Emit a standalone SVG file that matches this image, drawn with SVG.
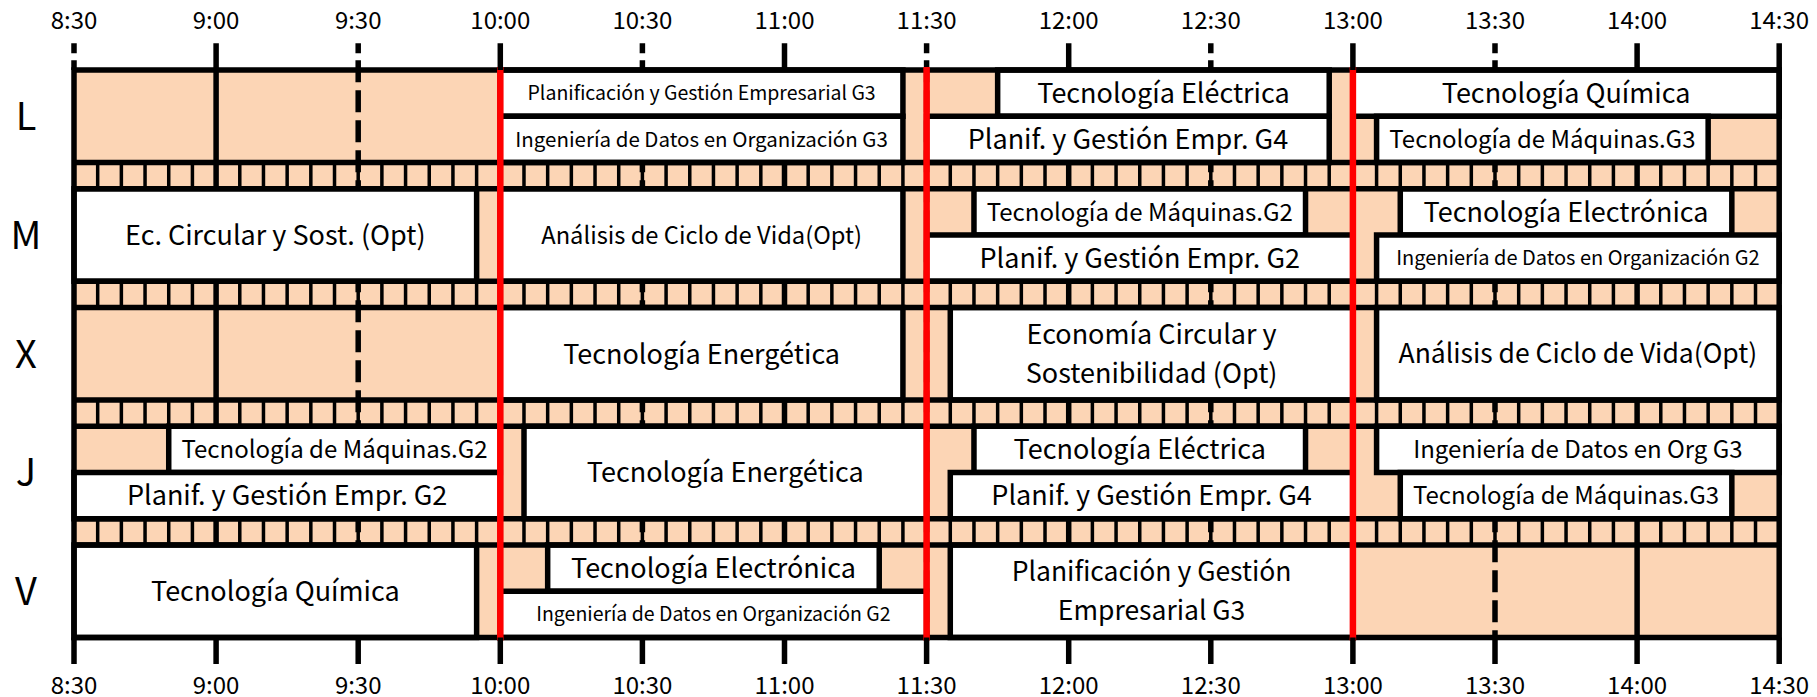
<svg xmlns="http://www.w3.org/2000/svg" width="1817" height="697" viewBox="0 0 1817 697">
<style>
text{font-family:"Noto Sans CJK JP","Noto Sans",sans-serif;fill:#000;text-anchor:middle}
.big{font-size:27px}
.mq{font-size:24px}
.sm{font-size:20px}
.tl{font-size:24px}
.day{font-size:38px}
.bg{fill:#fcd5b5}
.box{fill:#fff;stroke:#000;stroke-width:5.5}
.cells{stroke:#000;stroke-width:26.25;stroke-dasharray:3.5 20.18333}
.hr{stroke:#000;stroke-width:5.5}
.hh{stroke:#000;stroke-width:5.5;stroke-dasharray:22 8}
.rl{stroke:#000;stroke-width:5.5}
.red{stroke:#f00;stroke-width:6.5}
.tk{stroke:#000;stroke-width:5.5}
</style>
<rect width="1817" height="697" fill="#fff"/>
<g id="background">
<rect class="bg" x="74" y="70" width="1705.2" height="567.5"/>
</g>
<g id="strips">
<line class="cells" x1="72.25" y1="175.625" x2="1781" y2="175.625"/>
<line class="cells" x1="72.25" y1="294.375" x2="1781" y2="294.375"/>
<line class="cells" x1="72.25" y1="413.125" x2="1781" y2="413.125"/>
<line class="cells" x1="72.25" y1="531.875" x2="1781" y2="531.875"/>
</g>
<g id="timelines">
<path class="hr" d="M216.1 70V637.5M500.3 70V637.5M784.5 70V637.5M1068.7 70V637.5M1352.9 70V637.5M1637.1 70V637.5"/>
<path class="hh" d="M358.2 60.3V637.5M642.4 60.3V637.5M926.6 60.3V637.5M1210.8 60.3V637.5M1495 60.3V637.5"/>
</g>
<g id="node-L1"><rect class="box" x="500.3" y="70" width="402.62" height="46.25"/><text class="sm" style="font-size:19.5px" x="701.61" y="100.1">Planificación y Gestión Empresarial G3</text></g>
<g id="node-L2"><rect class="box" x="500.3" y="116.25" width="402.62" height="46.25"/><text class="sm" style="font-size:20.5px" x="701.61" y="146.8">Ingeniería de Datos en Organización G3</text></g>
<g id="node-L3"><rect class="box" x="997.65" y="70" width="331.57" height="46.25"/><text class="big" x="1163.44" y="102.8">Tecnología Eléctrica</text></g>
<g id="node-L4"><rect class="box" x="926.6" y="116.25" width="402.62" height="46.25"/><text class="big" x="1127.91" y="149.2">Planif. y Gestión Empr. G4</text></g>
<g id="node-L5"><rect class="box" x="1352.9" y="70" width="426.3" height="46.25"/><text class="big" x="1566.05" y="102.8">Tecnología Química</text></g>
<g id="node-L6"><rect class="box" x="1376.58" y="116.25" width="331.57" height="46.25"/><text class="mq" x="1542.37" y="148">Tecnología de Máquinas.G3</text></g>
<g id="node-M1"><rect class="box" x="74" y="188.75" width="402.62" height="92.5"/><text class="big" x="275.31" y="244.7">Ec. Circular y Sost. (Opt)</text></g>
<g id="node-M2"><rect class="box" x="500.3" y="188.75" width="402.62" height="92.5"/><text class="mq" style="font-size:23.7px" x="701.61" y="243.5">Análisis de Ciclo de Vida(Opt)</text></g>
<g id="node-M3"><rect class="box" x="973.97" y="188.75" width="331.56" height="46.25"/><text class="mq" x="1139.75" y="220.5">Tecnología de Máquinas.G2</text></g>
<g id="node-M4"><rect class="box" x="926.6" y="235" width="426.3" height="46.25"/><text class="big" x="1139.75" y="267.8">Planif. y Gestión Empr. G2</text></g>
<g id="node-M5"><rect class="box" x="1400.27" y="188.75" width="331.56" height="46.25"/><text class="big" x="1566.05" y="221.6">Tecnología Electrónica</text></g>
<g id="node-M6"><rect class="box" x="1376.58" y="235" width="402.62" height="46.25"/><text class="sm" x="1577.89" y="265.3">Ingeniería de Datos en Organización G2</text></g>
<g id="node-X1"><rect class="box" x="500.3" y="307.5" width="402.62" height="92.5"/><text class="big" x="701.61" y="363.5">Tecnología Energética</text></g>
<g id="node-X2"><rect class="box" x="950.28" y="307.5" width="402.62" height="92.5"/><text class="big" x="1151.59" y="344">Economía Circular y</text><text class="big" x="1151.59" y="383">Sostenibilidad (Opt)</text></g>
<g id="node-X3"><rect class="box" x="1376.58" y="307.5" width="402.62" height="92.5"/><text class="big" style="font-size:26.5px" x="1577.89" y="363.3">Análisis de Ciclo de Vida(Opt)</text></g>
<g id="node-J1"><rect class="box" x="168.73" y="426.25" width="331.57" height="46.25"/><text class="mq" x="334.52" y="458">Tecnología de Máquinas.G2</text></g>
<g id="node-J2"><rect class="box" x="74" y="472.5" width="426.3" height="46.25"/><text class="big" x="287.15" y="505.3">Planif. y Gestión Empr. G2</text></g>
<g id="node-J3"><rect class="box" x="524" y="426.25" width="402.6" height="92.5"/><text class="big" x="725.3" y="482.2">Tecnología Energética</text></g>
<g id="node-J4"><rect class="box" x="973.97" y="426.25" width="331.56" height="46.25"/><text class="big" x="1139.75" y="459.1">Tecnología Eléctrica</text></g>
<g id="node-J5"><rect class="box" x="950.28" y="472.5" width="402.62" height="46.25"/><text class="big" x="1151.59" y="505.3">Planif. y Gestión Empr. G4</text></g>
<g id="node-J6"><rect class="box" x="1376.58" y="426.25" width="402.62" height="46.25"/><text class="mq" x="1577.89" y="458">Ingeniería de Datos en Org G3</text></g>
<g id="node-J7"><rect class="box" x="1400.27" y="472.5" width="331.56" height="46.25"/><text class="mq" x="1566.05" y="504.3">Tecnología de Máquinas.G3</text></g>
<g id="node-V1"><rect class="box" x="74" y="545" width="402.62" height="92.5"/><text class="big" x="275.31" y="601">Tecnología Química</text></g>
<g id="node-V2"><rect class="box" x="547.67" y="545" width="331.56" height="46.25"/><text class="big" x="713.45" y="577.8">Tecnología Electrónica</text></g>
<g id="node-V3"><rect class="box" x="500.3" y="591.25" width="426.3" height="46.25"/><text class="sm" style="font-size:19.5px" x="713.45" y="621.4">Ingeniería de Datos en Organización G2</text></g>
<g id="node-V4"><rect class="box" x="950.28" y="545" width="402.62" height="92.5"/><text class="big" style="font-size:26.5px" x="1151.59" y="581.3">Planificación y Gestión</text><text class="big" style="font-size:26.5px" x="1151.59" y="620.3">Empresarial G3</text></g>
<g id="grid-lines">
<path class="rl" d="M71.25 70H1781.95M71.25 162.5H1781.95M71.25 188.75H1781.95M71.25 281.25H1781.95M71.25 307.5H1781.95M71.25 400H1781.95M71.25 426.25H1781.95M71.25 518.75H1781.95M71.25 545H1781.95M71.25 637.5H1781.95M74 67.25V640.25M1779.2 67.25V640.25"/>
</g>
<g id="connectors">
<path class="red" d="M500.3 67V640.5M926.6 67V640.5M1352.9 67V640.5"/>
</g>
<g id="axis">
<path class="tk" d="M216.1 43.3V70M500.3 43.3V70M784.5 43.3V70M1068.7 43.3V70M1352.9 43.3V70M1637.1 43.3V70M1779.2 43.3V70"/>
<path class="tk" d="M74 43.3V53.3M74 60.3V70M358.2 43.3V53.3M642.4 43.3V53.3M926.6 43.3V53.3M1210.8 43.3V53.3M1495 43.3V53.3"/>
<path class="tk" d="M74 637.5V664M216.1 637.5V664M358.2 637.5V664M500.3 637.5V664M642.4 637.5V664M784.5 637.5V664M926.6 637.5V664M1068.7 637.5V664M1210.8 637.5V664M1352.9 637.5V664M1495 637.5V664M1637.1 637.5V664M1779.2 637.5V664"/>
<text class="tl" x="74" y="29">8:30</text><text class="tl" x="216.1" y="29">9:00</text><text class="tl" x="358.2" y="29">9:30</text><text class="tl" x="500.3" y="29">10:00</text><text class="tl" x="642.4" y="29">10:30</text><text class="tl" x="784.5" y="29">11:00</text><text class="tl" x="926.6" y="29">11:30</text><text class="tl" x="1068.7" y="29">12:00</text><text class="tl" x="1210.8" y="29">12:30</text><text class="tl" x="1352.9" y="29">13:00</text><text class="tl" x="1495" y="29">13:30</text><text class="tl" x="1637.1" y="29">14:00</text><text class="tl" x="1779.2" y="29">14:30</text>
<text class="tl" x="74" y="693.5">8:30</text><text class="tl" x="216.1" y="693.5">9:00</text><text class="tl" x="358.2" y="693.5">9:30</text><text class="tl" x="500.3" y="693.5">10:00</text><text class="tl" x="642.4" y="693.5">10:30</text><text class="tl" x="784.5" y="693.5">11:00</text><text class="tl" x="926.6" y="693.5">11:30</text><text class="tl" x="1068.7" y="693.5">12:00</text><text class="tl" x="1210.8" y="693.5">12:30</text><text class="tl" x="1352.9" y="693.5">13:00</text><text class="tl" x="1495" y="693.5">13:30</text><text class="tl" x="1637.1" y="693.5">14:00</text><text class="tl" x="1779.2" y="693.5">14:30</text>
</g>
<g id="days">
<text class="day" x="26" y="130">L</text><text class="day" x="26" y="248.8">M</text><text class="day" x="26" y="367.5">X</text><text class="day" x="26" y="486.3">J</text><text class="day" x="26" y="605">V</text>
</g>
</svg>
